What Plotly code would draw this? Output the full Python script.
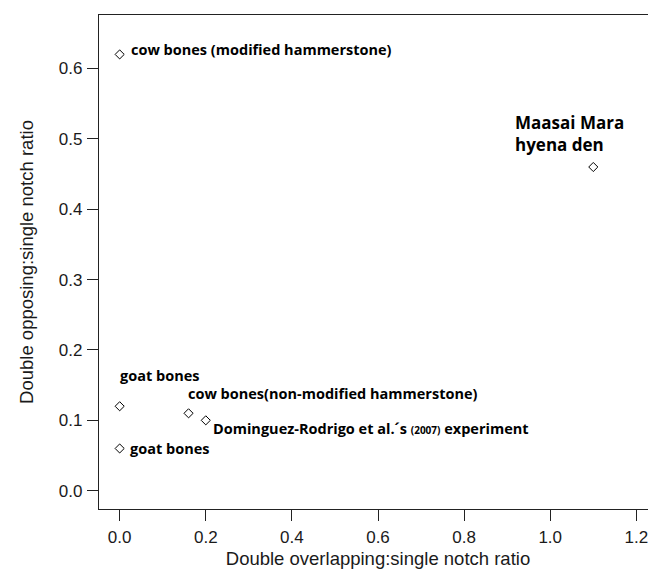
import plotly.graph_objects as go

# data
labels = ["cow bones (modified hammerstone)", "Maasai Mara<br>hyena den", "goat bones",
          "cow bones(non-modified hammerstone)",
          "Dominguez-Rodrigo et al.´s <span style='font-size:10px'>(2007)</span> experiment",
          "goat bones"]
x_vals = [0.0, 1.1, 0.0, 0.16, 0.20, 0.0]
y_vals = [0.62, 0.46, 0.12, 0.11, 0.10, 0.06]
x_ticks = [0.0, 0.2, 0.4, 0.6, 0.8, 1.0, 1.2]
y_ticks = [0.0, 0.1, 0.2, 0.3, 0.4, 0.5, 0.6]

# label placement (pixel offsets, anchors, sizes)
label_style = [
    dict(xshift=9, yshift=5, xanchor="left", yanchor="middle", size=14.5),
    dict(xshift=-80, yshift=9, xanchor="left", yanchor="bottom", size=17),
    dict(xshift=-2, yshift=19, xanchor="left", yanchor="bottom", size=14.5),
    dict(xshift=-3, yshift=8, xanchor="left", yanchor="bottom", size=14.5),
    dict(xshift=5, yshift=-8, xanchor="left", yanchor="middle", size=14.5),
    dict(xshift=8, yshift=0, xanchor="left", yanchor="middle", size=14.5),
]

fig = go.Figure()
fig.add_trace(go.Scatter(
    x=x_vals, y=y_vals, mode="markers",
    marker=dict(symbol="diamond-open", size=7, color="black", line=dict(width=1)),
    showlegend=False, hoverinfo="skip"))

for lab, xv, yv, st in zip(labels, x_vals, y_vals, label_style):
    fig.add_annotation(x=xv, y=yv, text=lab, showarrow=False,
                       xanchor=st["xanchor"], yanchor=st["yanchor"],
                       xshift=st["xshift"], yshift=st["yshift"], align="left",
                       font=dict(family="Open Sans", size=st["size"], color="black", weight="bold"))

axis_common = dict(showline=True, mirror=True, linecolor="#222", linewidth=1.3,
                   ticks="outside", ticklen=11, tickwidth=1, tickcolor="#222",
                   showgrid=False, zeroline=False, ticklabelstandoff=1,
                   tickfont=dict(family="Liberation Sans", size=17, color="#1a1a1a"))

fig.update_xaxes(range=[-0.048, 1.248], tickvals=x_ticks,
                 ticktext=[f"{v:.1f}" for v in x_ticks],
                 title=dict(text="Double overlapping:single notch ratio",
                            font=dict(family="Liberation Sans", size=18.5, color="#1a1a1a"),
                            standoff=6),
                 **axis_common)
fig.update_yaxes(range=[-0.026, 0.676], tickvals=y_ticks,
                 ticktext=[f"{v:.1f}" for v in y_ticks],
                 title=dict(text="Double opposing:single notch ratio",
                            font=dict(family="Liberation Sans", size=18.5, color="#1a1a1a"),
                            standoff=20),
                 **axis_common)

fig.update_layout(width=656, height=573, plot_bgcolor="white", paper_bgcolor="white",
                  margin=dict(l=91, r=7, t=7, b=72))

fig.write_html("out.html")
